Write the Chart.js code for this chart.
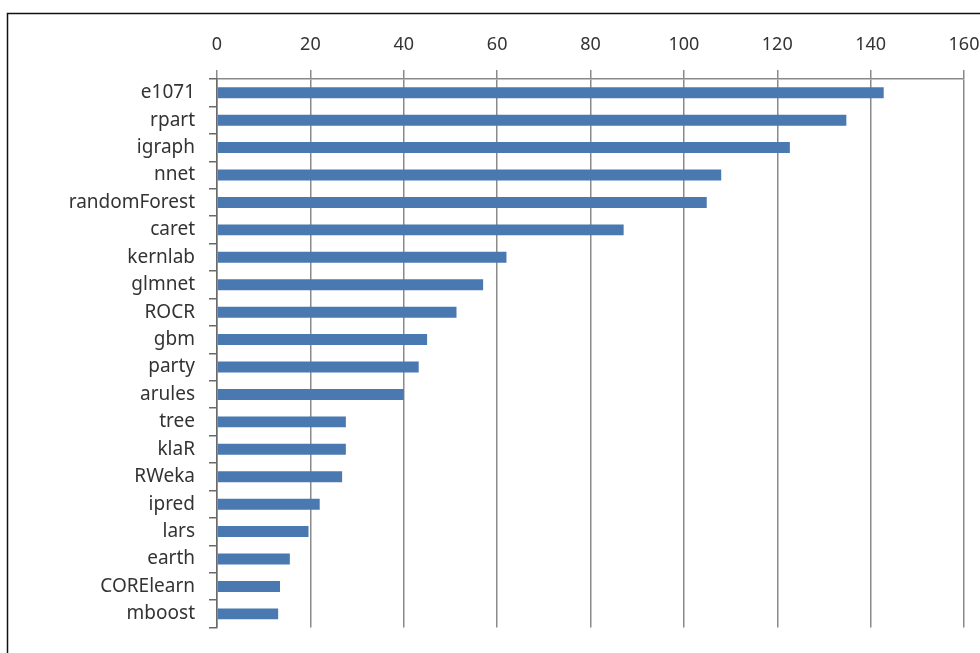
<!DOCTYPE html>
<html>
<head>
<meta charset="utf-8">
<script src="https://cdn.jsdelivr.net/npm/chart.js@4/dist/chart.umd.min.js"></script>
<style>
    html, body { margin: 0; padding: 0; background: #fff; }
    #wrap { width: 980px; height: 653px; position: relative; }
</style>
</head>
<body>
<div id="wrap"><canvas id="pkgChart" width="980" height="653"></canvas></div>
<script>
const packages = ['e1071', 'rpart', 'igraph', 'nnet', 'randomForest', 'caret', 'kernlab', 'glmnet', 'ROCR', 'gbm',
    'party', 'arules', 'tree', 'klaR', 'RWeka', 'ipred', 'lars', 'earth', 'CORElearn', 'mboost'];
const counts = [142.8, 134.8, 122.7, 108, 104.9, 87.1, 62, 57, 51.3, 45,
    43.2, 40, 27.6, 27.6, 26.8, 22, 19.6, 15.6, 13.5, 13.1];
const axisMax = 160;
const axisStep = 20;

document.addEventListener('DOMContentLoaded', () => {
    const ctx = document.getElementById('pkgChart').getContext('2d');

    // outer frame like the original screenshot
    const framePlugin = {
        id: 'frame',
        beforeDraw(chart) {
            const c = chart.ctx;
            c.save();
            c.strokeStyle = '#111';
            c.lineWidth = 1.5;
            c.beginPath();
            c.moveTo(7.5, 653);
            c.lineTo(7.5, 13.5);
            c.lineTo(980, 13.5);
            c.stroke();
            c.restore();
        }
    };

    new Chart(ctx, {
        type: 'bar',
        data: {
            labels: packages,
            datasets: [{
                label: 'packages',
                data: counts,
                backgroundColor: '#4a78b1',
                borderWidth: 0,
                barPercentage: 0.4,
                categoryPercentage: 1
            }]
        },
        options: {
            indexAxis: 'y',
            responsive: false,
            animation: false,
            layout: { padding: { top: 0, left: 0, right: 16, bottom: 25 } },
            plugins: {
                legend: { display: false },
                tooltip: { enabled: false }
            },
            scales: {
                x: {
                    position: 'top',
                    min: 0,
                    max: axisMax,
                    ticks: {
                        stepSize: axisStep,
                        color: '#333',
                        padding: 14,
                        font: { family: 'Noto Sans', size: 18 }
                    },
                    grid: {
                        color: '#8a8a8a',
                        lineWidth: 1.5,
                        tickLength: 9
                    },
                    border: { color: '#8a8a8a', width: 1.5 },
                    afterFit(scale) {
                        scale.height = 79;
                        scale.paddingLeft = 0;
                        scale.paddingRight = 0;
                    }
                },
                y: {
                    ticks: {
                        color: '#333',
                        padding: 14,
                        font: { family: 'Noto Sans', size: 19 }
                    },
                    grid: {
                        drawOnChartArea: false,
                        color: '#6a6a6a',
                        lineWidth: 1.5,
                        tickLength: 8
                    },
                    border: { color: '#6a6a6a', width: 1.5 },
                    afterFit(scale) { scale.width = 217; }
                }
            }
        },
        plugins: [framePlugin]
    });
});
</script>
</body>
</html>
